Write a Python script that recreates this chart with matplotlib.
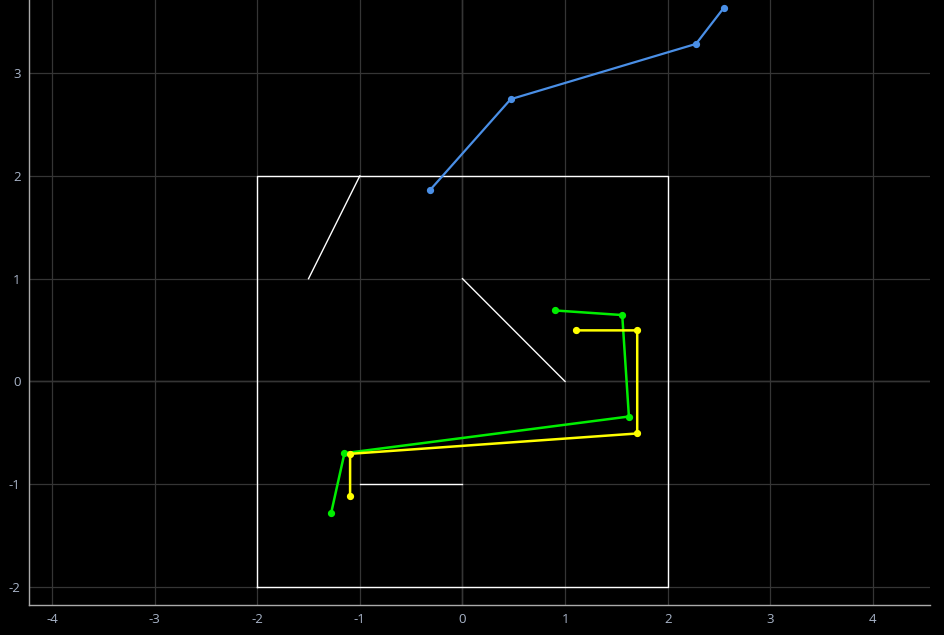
import matplotlib.pyplot as plt

plt.rcParams["font.family"] = ["Open Sans", "DejaVu Sans"]
plt.rcParams["axes.unicode_minus"] = False

# white box and guide segments
box_x = [-2, 2, 2, -2, -2]
box_y = [-2, -2, 2, 2, -2]
seg1_x = [-1.5, -1.0]
seg1_y = [1.0, 2.0]
seg2_x = [0.0, 1.0]
seg2_y = [1.0, 0.0]
seg3_x = [-1.0, 0.0]
seg3_y = [-1.0, -1.0]

# paths
blue_x = [-0.316, 0.470, 2.276, 2.547]
blue_y = [1.862, 2.746, 3.284, 3.635]
green_x = [0.897, 1.557, 1.622, -1.150, -1.280]
green_y = [0.691, 0.646, -0.341, -0.698, -1.282]
yellow_x = [1.105, 1.703, 1.703, -1.095, -1.095]
yellow_y = [0.497, 0.497, -0.506, -0.704, -1.110]

fig = plt.figure(figsize=(9.45, 6.35), dpi=100, facecolor="black")
ax = fig.add_axes([0.0307, 0.0472, 0.9534, 0.9528])
ax.set_facecolor("black")

ax.grid(True, color="#353535", linewidth=0.9)
ax.set_axisbelow(True)
# zero lines are a bit brighter than the rest of the grid
ax.axhline(0, color="#6a6a6a", linewidth=0.9, zorder=0.5)
ax.axvline(0, color="#6a6a6a", linewidth=0.9, zorder=0.5)

ax.plot(box_x, box_y, color="white", linewidth=1.0)
ax.plot(seg1_x, seg1_y, color="white", linewidth=1.0)
ax.plot(seg2_x, seg2_y, color="white", linewidth=1.0)
ax.plot(seg3_x, seg3_y, color="white", linewidth=1.0)

ax.plot(blue_x, blue_y, color="#4a8fe6", linewidth=1.6, marker="o", markersize=4.2)
ax.plot(green_x, green_y, color="#00ee00", linewidth=1.8, marker="o", markersize=4.2)
ax.plot(yellow_x, yellow_y, color="#ffff00", linewidth=1.8, marker="o", markersize=4.2)

ax.set_xlim(-4.224, 4.556)
ax.set_ylim(-2.175, 3.711)
ax.set_xticks([-4, -3, -2, -1, 0, 1, 2, 3, 4])
ax.set_yticks([-2, -1, 0, 1, 2, 3])

for side in ["top", "right"]:
    ax.spines[side].set_visible(False)
for side in ["left", "bottom"]:
    ax.spines[side].set_color("#aaaaaa")
    ax.spines[side].set_linewidth(1.0)

ax.tick_params(colors="#a8b4c8", labelsize=9.5, length=0, pad=6)

fig.savefig("out.png", dpi=100, facecolor="black")
